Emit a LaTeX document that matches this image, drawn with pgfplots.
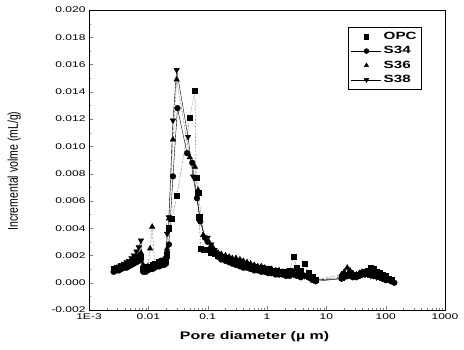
\documentclass[border=0pt]{standalone}
\usepackage{pgfplots}
\pgfplotsset{compat=1.18}
\usepackage{fontspec}
\setmainfont{Liberation Sans}
\newfontfamily\wide{Liberation Sans}[FakeStretch=1.45]
\pgfplotsset{
 lgmark/.style={legend image code/.code={\draw[##1] plot coordinates {(15pt,0pt)};}},
 lgline/.style={legend image code/.code={\draw[mark repeat=2,mark phase=2,##1] plot coordinates {(0pt,0pt)(15pt,0pt)(30pt,0pt)};}},
}
\begin{document}
\begin{tikzpicture}
\useasboundingbox (-89pt,-39pt) rectangle (375pt,310pt);
\begin{axis}[
  scale only axis, width=356pt, height=300pt,
  xmode=log, xmin=1e-3, xmax=1000,
  ymin=-0.002, ymax=0.020,
  xtick={1e-3,1e-2,1e-1,1,10,100,1000},
  xticklabels={1E-3,0.01,0.1,1,10,100,1000},
  ytick={-0.002,0,0.002,0.004,0.006,0.008,0.010,0.012,0.014,0.016,0.018,0.020},
  minor y tick num=1,
  scaled y ticks=false,
  yticklabel style={/pgf/number format/fixed,/pgf/number format/fixed zerofill,/pgf/number format/precision=3},
  /pgf/number format/assume math mode=true,
  tick label style={font=\wide\fontsize{8.3}{9}\selectfont, text=black},
  xtick pos=bottom, ytick pos=left,
  tick align=inside,
  major tick length=4.5pt, minor tick length=2.5pt,
  axis line style={line width=0.5pt},
  xlabel={Pore diameter (\textmu\ m)},
  ylabel={Incremental volme (mL/g)},
  xlabel style={font=\wide\bfseries\fontsize{11}{12}\selectfont, at={(axis description cs:0.465,-0.09)}, anchor=center},
  ylabel style={font=\fontsize{10.5}{12}\selectfont, at={(axis description cs:-0.21,0.463)}, anchor=center, yscale=1.35},
  legend style={at={(rel axis cs:0.935,0.943)}, anchor=north east, draw=black, line width=0.4pt,
    font=\wide\bfseries\fontsize{10.5}{12}\selectfont, row sep=1.5pt, inner xsep=3pt, inner ysep=3pt},
  legend cell align=left,
  every axis plot/.append style={black, line width=0.4pt},
]
% OPC
\addplot[forget plot, densely dotted, mark=square*, mark size=2.6pt, mark options={solid}] coordinates {
(0.0026,0.0010)(0.0029,0.0011)(0.0032,0.0010)(0.0035,0.0012)(0.0039,0.0012)(0.0043,0.0013)(0.0047,0.0014)(0.0052,0.0015)(0.0057,0.0016)(0.0063,0.0017)(0.0069,0.0018)(0.0075,0.0019)
(0.0082,0.0010)(0.0090,0.0011)(0.0098,0.0012)(0.0107,0.0012)(0.0117,0.0013)(0.0128,0.0014)(0.0140,0.0014)(0.0153,0.0015)(0.0167,0.0016)(0.0182,0.0016)(0.0198,0.0017)
(0.0207,0.0020)(0.0222,0.0040)(0.025,0.0047)(0.0305,0.0064)(0.050,0.0121)(0.061,0.0141)(0.064,0.0077)(0.069,0.0066)(0.072,0.0048)(0.076,0.0025)(0.085,0.0024)
(0.10,0.0024)(0.115,0.0022)(0.13,0.0021)(0.15,0.0020)(0.17,0.0019)(0.20,0.0018)(0.23,0.0017)(0.26,0.0016)(0.30,0.0015)(0.35,0.0014)(0.40,0.0014)(0.46,0.0013)(0.53,0.0012)(0.61,0.0012)(0.70,0.0011)(0.80,0.0011)(0.92,0.0010)(1.05,0.0010)(1.2,0.0009)(1.4,0.0009)(1.6,0.0008)(1.85,0.0008)(2.1,0.0008)(2.4,0.0009)(2.8,0.0019)(3.2,0.0011)(3.7,0.0009)(4.3,0.0014)(5.0,0.0007)(5.8,0.0004)(6.6,0.0002)
(18,0.0004)(20,0.0005)(22.5,0.0006)(25,0.0007)(28,0.0006)(32,0.0005)(36,0.0006)(40,0.0007)(45,0.0008)(50,0.0009)(56,0.0011)(63,0.0010)(70,0.0008)(79,0.0007)(88,0.0006)(100,0.0005)(112,0.0003)(125,0.0002)
};
% S34
\addplot[forget plot, solid, mark=*, mark size=2.9pt] coordinates {
(0.0026,0.0008)(0.0029,0.0009)(0.0032,0.0009)(0.0035,0.0010)(0.0039,0.0011)(0.0043,0.0011)(0.0047,0.0012)(0.0052,0.0013)(0.0057,0.0014)(0.0063,0.0015)(0.0069,0.0016)(0.0075,0.0017)
(0.0082,0.0008)(0.0090,0.0008)(0.0098,0.0009)(0.0107,0.0010)(0.0117,0.0010)(0.0128,0.0011)(0.0140,0.0012)(0.0153,0.0012)(0.0167,0.0013)(0.0182,0.0013)(0.0198,0.0014)
(0.0207,0.0022)(0.0222,0.0028)(0.026,0.0078)(0.031,0.0128)(0.045,0.0095)(0.055,0.0088)(0.066,0.0062)(0.075,0.0045)(0.090,0.0033)
(0.10,0.0030)(0.115,0.0026)(0.13,0.0022)(0.15,0.0019)(0.17,0.0017)(0.20,0.0016)(0.23,0.0015)(0.26,0.0014)(0.30,0.0013)(0.35,0.0012)(0.40,0.0011)(0.46,0.0011)(0.53,0.0010)(0.61,0.0009)(0.70,0.0009)(0.80,0.0008)(0.92,0.0008)(1.05,0.0007)(1.2,0.0007)(1.4,0.0006)(1.6,0.0006)(1.85,0.0006)(2.1,0.0005)(2.4,0.0005)(2.8,0.0006)(3.2,0.0005)(3.7,0.0004)(4.3,0.0005)(5.0,0.0004)(5.8,0.0002)(6.6,0.0001)
(18,0.0003)(20,0.0004)(22.5,0.0005)(25,0.0005)(28,0.0004)(32,0.0004)(36,0.0005)(40,0.0006)(45,0.0006)(50,0.0007)(56,0.0006)(63,0.0005)(70,0.0005)(79,0.0004)(88,0.0003)(100,0.0002)(112,0.0002)(125,0.0001)(140,0.0000)
};
% S36
\addplot[forget plot, densely dotted, mark=triangle*, mark size=3.2pt, mark options={solid}] coordinates {
(0.0026,0.0009)(0.0029,0.0010)(0.0032,0.0011)(0.0035,0.0011)(0.0039,0.0012)(0.0043,0.0013)(0.0047,0.0014)(0.0052,0.0015)(0.0057,0.0016)(0.0063,0.0018)(0.0069,0.0020)(0.0075,0.0022)
(0.0082,0.0013)(0.0090,0.0011)(0.0098,0.0012)(0.0107,0.0025)(0.0116,0.0041)(0.0128,0.0013)(0.0140,0.0013)(0.0153,0.0014)(0.0167,0.0015)(0.0182,0.0016)(0.0198,0.0017)
(0.0207,0.0025)(0.0222,0.0047)(0.026,0.0105)(0.030,0.0149)(0.050,0.0092)(0.061,0.0085)(0.069,0.0068)(0.084,0.0035)
(0.10,0.0031)(0.115,0.0027)(0.13,0.0024)(0.15,0.0022)(0.17,0.0021)(0.20,0.0020)(0.23,0.0019)(0.26,0.0018)(0.30,0.0018)(0.35,0.0017)(0.40,0.0016)(0.46,0.0015)(0.53,0.0014)(0.61,0.0013)(0.70,0.0012)(0.80,0.0012)(0.92,0.0011)(1.05,0.0010)(1.2,0.0010)(1.4,0.0009)(1.6,0.0009)(1.85,0.0008)(2.1,0.0008)(2.4,0.0007)(2.8,0.0008)(3.2,0.0007)(3.7,0.0006)(4.3,0.0005)(5.0,0.0004)(5.8,0.0003)(6.6,0.0002)
(18,0.0006)(20,0.0008)(22.5,0.0011)(25,0.0009)(28,0.0007)(32,0.0006)(36,0.0007)(40,0.0008)(45,0.0007)(50,0.0006)(56,0.0005)(63,0.0006)(70,0.0005)(79,0.0004)(88,0.0003)
};
% S38
\addplot[forget plot, solid, mark=triangle*, mark size=3.2pt, mark options={rotate=180}] coordinates {
(0.0026,0.0010)(0.0029,0.0011)(0.0032,0.0012)(0.0035,0.0013)(0.0039,0.0014)(0.0043,0.0015)(0.0047,0.0016)(0.0052,0.0018)(0.0057,0.0020)(0.0063,0.0023)(0.0069,0.0026)(0.0075,0.0031)
(0.0082,0.0009)(0.0090,0.0010)(0.0098,0.0011)(0.0107,0.0012)(0.0117,0.0012)(0.0128,0.0013)(0.0140,0.0014)(0.0153,0.0015)(0.0167,0.0016)(0.0182,0.0017)(0.0198,0.0018)
(0.0207,0.0036)(0.0222,0.0048)(0.026,0.0119)(0.030,0.0156)(0.0467,0.0107)(0.0567,0.0078)(0.0745,0.0048)(0.090,0.0033)
(0.10,0.0033)(0.115,0.0028)(0.13,0.0024)(0.15,0.0021)(0.17,0.0019)(0.20,0.0018)(0.23,0.0016)(0.26,0.0015)(0.30,0.0014)(0.35,0.0013)(0.40,0.0013)(0.46,0.0012)(0.53,0.0011)(0.61,0.0011)(0.70,0.0010)(0.80,0.0010)(0.92,0.0009)(1.05,0.0009)(1.2,0.0008)(1.4,0.0008)(1.6,0.0007)(1.85,0.0007)(2.1,0.0007)(2.4,0.0006)(2.8,0.0006)(3.2,0.0006)(3.7,0.0005)(4.3,0.0005)(5.0,0.0004)(5.8,0.0003)(6.6,0.0002)
(18,0.0003)(20,0.0004)(22.5,0.0005)(25,0.0006)(28,0.0005)(32,0.0005)(36,0.0006)(40,0.0007)(45,0.0007)(50,0.0006)(56,0.0005)(63,0.0005)(70,0.0004)(79,0.0004)(88,0.0003)(100,0.0002)
};
\addlegendimage{only marks, mark=square*, mark size=2.2pt, black, lgmark}
\addlegendentry{OPC}
\addlegendimage{solid, mark=*, mark size=2.5pt, black, line width=0.4pt, lgline}
\addlegendentry{S34}
\addlegendimage{only marks, mark=triangle*, mark size=2.5pt, black, lgmark}
\addlegendentry{S36}
\addlegendimage{solid, mark=triangle*, mark size=2.8pt, mark options={rotate=180}, black, line width=0.4pt, lgline}
\addlegendentry{S38}
\end{axis}
\end{tikzpicture}
\end{document}
